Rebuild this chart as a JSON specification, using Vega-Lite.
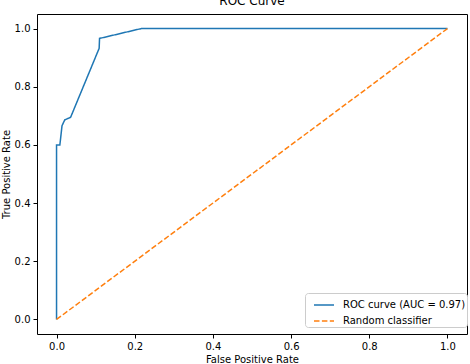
{
  "$schema": "https://vega.github.io/schema/vega-lite/v6.json",
  "width": 430,
  "height": 320,
  "autosize": {"type": "none"},
  "padding": {"left": 37, "top": 14, "right": 3, "bottom": 30},
  "background": "white",
  "title": {"text": "ROC Curve", "fontSize": 12, "font": "DejaVu Sans", "fontWeight": "normal", "color": "black", "offset": 4, "baseline": "bottom", "dy": 10},
  "config": {
    "font": "DejaVu Sans",
    "view": {"stroke": "black", "strokeWidth": 1},
    "axis": {
      "grid": false, "domain": false, "tickColor": "black", "tickSize": 4, "tickWidth": 1,
      "labelFontSize": 10, "labelColor": "black", "labelPadding": 3,
      "titleFontSize": 10, "titleFontWeight": "normal", "titleColor": "black"
    }
  },
  "datasets": {
    "roc": [
      {"fpr": 0.0, "tpr": 0.0, "i": 0, "series": "ROC curve (AUC = 0.97)"},
      {"fpr": 0.0, "tpr": 0.6, "i": 1, "series": "ROC curve (AUC = 0.97)"},
      {"fpr": 0.0085, "tpr": 0.6, "i": 2, "series": "ROC curve (AUC = 0.97)"},
      {"fpr": 0.014, "tpr": 0.666, "i": 3, "series": "ROC curve (AUC = 0.97)"},
      {"fpr": 0.021, "tpr": 0.686, "i": 4, "series": "ROC curve (AUC = 0.97)"},
      {"fpr": 0.036, "tpr": 0.695, "i": 5, "series": "ROC curve (AUC = 0.97)"},
      {"fpr": 0.109, "tpr": 0.932, "i": 6, "series": "ROC curve (AUC = 0.97)"},
      {"fpr": 0.11, "tpr": 0.966, "i": 7, "series": "ROC curve (AUC = 0.97)"},
      {"fpr": 0.217, "tpr": 1.0, "i": 8, "series": "ROC curve (AUC = 0.97)"},
      {"fpr": 1.0, "tpr": 1.0, "i": 9, "series": "ROC curve (AUC = 0.97)"},
      {"fpr": 0.0, "tpr": 0.0, "i": 0, "series": "Random classifier"},
      {"fpr": 1.0, "tpr": 1.0, "i": 1, "series": "Random classifier"}
    ]
  },
  "data": {"name": "roc"},
  "mark": {"type": "line", "strokeWidth": 1.5},
  "encoding": {
    "x": {"field": "fpr", "type": "quantitative", "scale": {"domain": [-0.05, 1.05], "nice": false, "zero": false},
      "axis": {"values": [0, 0.2, 0.4, 0.6, 0.8, 1.0], "format": ".1f", "title": "False Positive Rate", "titlePadding": 3}},
    "y": {"field": "tpr", "type": "quantitative", "scale": {"domain": [-0.05, 1.05], "nice": false, "zero": false},
      "axis": {"values": [0, 0.2, 0.4, 0.6, 0.8, 1.0], "format": ".1f", "title": "True Positive Rate", "titlePadding": 3}},
    "order": {"field": "i", "type": "quantitative"},
    "color": {"field": "series", "type": "nominal",
      "scale": {"domain": ["ROC curve (AUC = 0.97)", "Random classifier"], "range": ["#1f77b4", "#ff7f0e"]},
      "legend": {"title": null, "orient": "none", "legendX": 268, "legendY": 279,
        "symbolType": "stroke", "symbolSize": 400, "symbolStrokeWidth": 1.5, "symbolOffset": 7,
        "labelFontSize": 10, "labelColor": "black", "labelOffset": 8,
        "strokeColor": "#cccccc", "fillColor": "white", "padding": 1, "cornerRadius": 3, "rowPadding": -4}},
    "strokeDash": {"field": "series", "type": "nominal",
      "scale": {"domain": ["ROC curve (AUC = 0.97)", "Random classifier"], "range": [[1, 0], [5.5, 2.4]]},
      "legend": null}
  }
}
